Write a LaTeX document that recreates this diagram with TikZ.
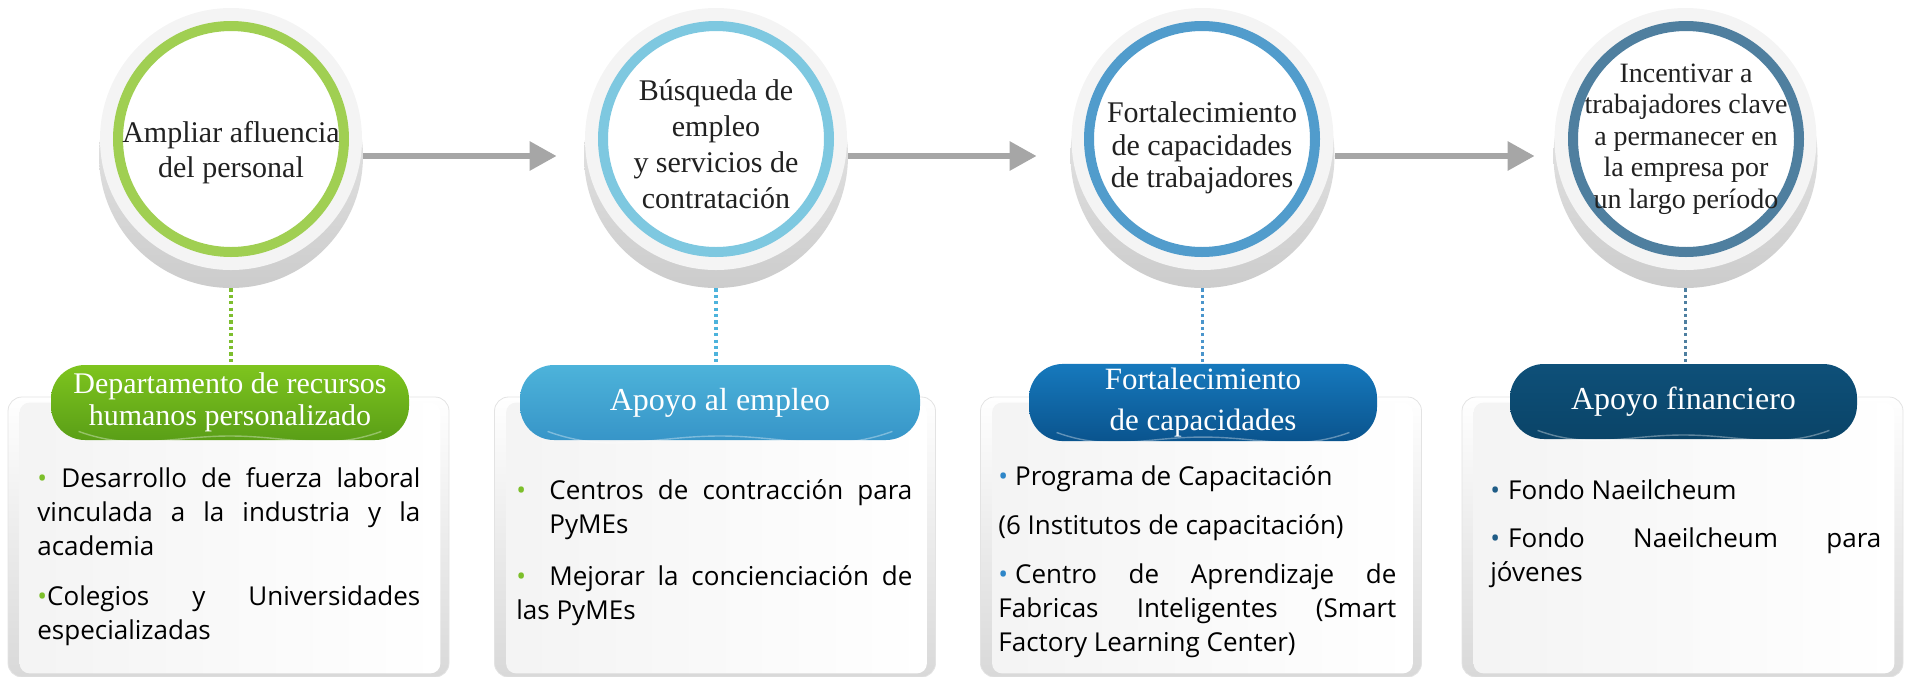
\documentclass[tikz,border=0pt]{standalone}
\usepackage{fontspec}
\usepackage{xcolor}
\usepackage{tikz}
\usetikzlibrary{arrows.meta,positioning}
\setmainfont{Liberation Serif}
\newfontfamily\boxfont{Open Sans}
\definecolor{ringa}{HTML}{A0CF52}
\definecolor{ringb}{HTML}{7EC8E0}
\definecolor{ringc}{HTML}{519CCC}
\definecolor{ringd}{HTML}{4F7F9F}
\definecolor{pilla}{HTML}{7EC41E}
\definecolor{pillab}{HTML}{5A9F17}
\definecolor{pillb}{HTML}{4DB3DA}
\definecolor{pillbb}{HTML}{3795C8}
\definecolor{pillc}{HTML}{1679BD}
\definecolor{pillcb}{HTML}{0A548E}
\definecolor{pilld}{HTML}{0E5079}
\definecolor{pilldb}{HTML}{0A4468}
\definecolor{arrowgray}{HTML}{A6A6A6}
\definecolor{dota}{HTML}{7DBE2E}
\definecolor{dotb}{HTML}{4DB3DC}
\definecolor{dotc}{HTML}{4A95CC}
\definecolor{dotd}{HTML}{4E7FA0}
\definecolor{bula}{HTML}{7CBF2A}
\definecolor{bulc}{HTML}{2E86C8}
\definecolor{buld}{HTML}{1F5C86}
\newcommand\bulA{\textcolor{bula}{•}}
\newcommand\bulC{\textcolor{bulc}{•}}
\newcommand\bulD{\textcolor{buld}{•}}

\begin{document}
\begin{tikzpicture}[x=0.5pt,y=-0.5pt,
    disk/.style={circle,inner sep=0,minimum size=132pt,top color=gray!12,bottom color=gray!40},
    face/.style={fill=gray!9},
    ring/.style={circle,inner sep=0,minimum size=113pt,fill=white,draw=#1,line width=5pt},
    circtext/.style={align=center,inner sep=0,text=black!87},
    pill/.style={rectangle,rounded corners=17pt,minimum width=#1,minimum height=37.5pt,inner sep=2pt,text=white,align=center},
    panel/.style={rectangle,rounded corners=7pt,minimum width=220.5pt,minimum height=140pt,draw=gray!22,top color=white,bottom color=gray!30},
    inset/.style={rounded corners=5pt,left color=gray!9,right color=white},
    boxtext/.style={anchor=base west,inner sep=0,align=justify,text width=#1,font={\boxfont\fontsize{13}{17}\selectfont}},
    linkarrow/.style={draw=arrowgray,line width=3pt,-{Triangle[length=13.5pt,width=14pt]}},
    dotline/.style={draw=#1,line width=1.6pt,dash pattern=on 1.6pt off 1.6pt},
    hl/.style={draw=white,draw opacity=.35,line width=.7pt}]
  \useasboundingbox (0,0) rectangle (1908,676);

  \path
  (228.5,537) node[panel] (b1) {}
  (715,537) node[panel] (b2) {}
  (1201,537) node[panel] (b3) {}
  (1682.5,537) node[panel] (b4) {}
  ;
  \shade[inset] ([xshift=6pt,yshift=-3pt]b1.north west) rectangle ([xshift=-4.5pt,yshift=2pt]b1.south east);
  \shade[inset] ([xshift=6pt,yshift=-3pt]b2.north west) rectangle ([xshift=-4.5pt,yshift=2pt]b2.south east);
  \shade[inset] ([xshift=6pt,yshift=-3pt]b3.north west) rectangle ([xshift=-4.5pt,yshift=2pt]b3.south east);
  \shade[inset] ([xshift=6pt,yshift=-3pt]b4.north west) rectangle ([xshift=-4.5pt,yshift=2pt]b4.south east);

  \path
  (230,402.5) node[pill=179pt,top color=pilla,bottom color=pillab,font={\fontsize{15}{16}\selectfont}] (p1) {Departamento de recursos\\humanos personalizado}
  (720,402.5) node[pill=200pt,top color=pillb,bottom color=pillbb,font={\fontsize{16}{18}\selectfont}] (p2) {Apoyo al empleo}
  (1203,402.5) node[pill=174pt,top color=pillc,bottom color=pillcb,font={\fontsize{15.5}{20.5}\selectfont}] (p3) {Fortalecimiento\\de capacidades}
  (1683.5,401.5) node[pill=173.5pt,top color=pilld,bottom color=pilldb,font={\fontsize{16}{18}\selectfont}] (p4) {Apoyo financiero}
  ;
  \draw[hl] ([xshift=14pt,yshift=4.5pt]p1.south west) to[out=-20,in=180] ([yshift=2.2pt]p1.south) to[out=0,in=-160] ([xshift=-14pt,yshift=4.5pt]p1.south east);
  \draw[hl] ([xshift=14pt,yshift=4.5pt]p2.south west) to[out=-20,in=180] ([yshift=2.2pt]p2.south) to[out=0,in=-160] ([xshift=-14pt,yshift=4.5pt]p2.south east);
  \draw[hl] ([xshift=14pt,yshift=4.5pt]p3.south west) to[out=-20,in=180] ([yshift=2.2pt]p3.south) to[out=0,in=-160] ([xshift=-14pt,yshift=4.5pt]p3.south east);
  \draw[hl] ([xshift=14pt,yshift=4.5pt]p4.south west) to[out=-20,in=180] ([yshift=2.2pt]p4.south) to[out=0,in=-160] ([xshift=-14pt,yshift=4.5pt]p4.south east);

  \path
  (37,487) node[boxtext=191.5pt] (l1) {\setlength\parskip{8pt}\bulA{} Desarrollo de fuerza laboral\linebreak vinculada a la industria y la\linebreak academia\par
    \bulA Colegios y Universidades\linebreak especializadas}
  (516,499) node[boxtext=198pt] (l2) {\setlength\parskip{9pt}\hangindent=16.5pt\hangafter=1 \makebox[16.5pt][l]{\bulA}Centros de contracción para\linebreak PyMEs\par
    \hangindent=16.5pt\hangafter=1 \makebox[16.5pt][l]{\bulA}Mejorar la concienciación de\linebreak las PyMEs}
  (998,485) node[boxtext=199pt] (l3) {\setlength\parskip{7.5pt}\bulC\hspace{3.5pt}Programa de Capacitación\par
    (6 Institutos de capacitación)\par
    \bulC\hspace{3.5pt}Centro de Aprendizaje de\linebreak Fabricas Inteligentes (Smart\linebreak Factory Learning Center)}
  (1490,499) node[boxtext=195.5pt] (l4) {\setlength\parskip{7pt}\bulD\hspace{4pt}Fondo Naeilcheum\par
    \bulD\hspace{4pt}Fondo Naeilcheum para\linebreak jóvenes}
  ;

  \path
  (231,156) node[disk] (d1) {}
  (716,156) node[disk] (d2) {}
  (1202.5,156) node[disk] (d3) {}
  (1685.5,156) node[disk] (d4) {}
  ;
  \fill[face] (231,139) circle (65.5pt);
  \fill[face] (716,139) circle (65.5pt);
  \fill[face] (1202.5,139) circle (65.5pt);
  \fill[face] (1685.5,139) circle (65.5pt);

  \path
  (231,139) node[ring=ringa] (c1) {}
  (716,139) node[ring=ringb] (c2) {}
  (1202,139) node[ring=ringc] (c3) {}
  (1686,139) node[ring=ringd] (c4) {}
  ;
  \path
  ([yshift=-7pt]c1.center) node[circtext,font={\fontsize{15}{17.5}\selectfont}] (t1) {Ampliar afluencia\\del personal}
  ([yshift=-2.75pt]c2.center) node[circtext,font={\fontsize{15}{18}\selectfont}] (t2) {Búsqueda de\\empleo\\y servicios de\\contratación}
  ([yshift=-4.5pt]c3.center) node[circtext,font={\fontsize{15}{16.25}\selectfont}] (t3) {Fortalecimiento\\de capacidades\\de trabajadores}
  (c4.center) node[circtext,font={\fontsize{14}{15.75}\selectfont}] (t4) {Incentivar a\\trabajadores clave\\a permanecer en\\la empresa por\\un largo período}
  ;

  \draw[linkarrow,shorten >=13.5pt] (d1) -- (d2);
  \draw[linkarrow,shorten >=16.75pt] (d2) -- (d3);
  \draw[linkarrow,shorten >=9.25pt] (d3) -- (d4);
  \draw[dotline=dota] (d1.south) -- (d1.south |- p1.north);
  \draw[dotline=dotb] (d2.south) -- (d2.south |- p2.north);
  \draw[dotline=dotc] (d3.south) -- (d3.south |- p3.north);
  \draw[dotline=dotd] (d4.south) -- (d4.south |- p4.north);
\end{tikzpicture}
\end{document}
